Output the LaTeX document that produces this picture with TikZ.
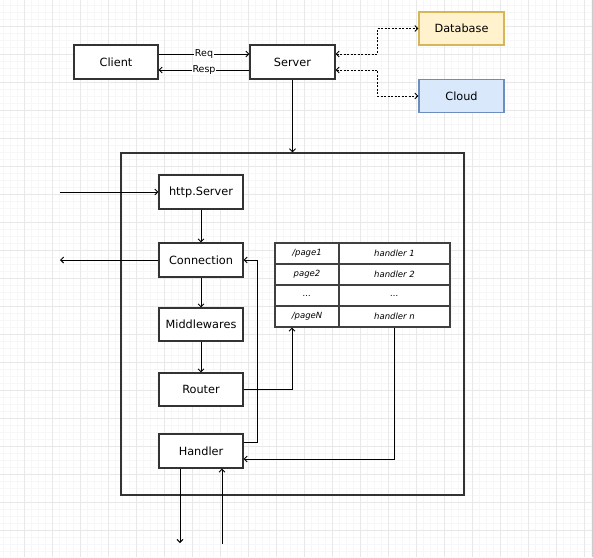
\documentclass[tikz,border=0pt]{standalone}
\usepackage{fontspec}
\setmainfont{DejaVu Sans}
\usetikzlibrary{arrows.meta}
\definecolor{gridminor}{HTML}{F7F7F7}
\definecolor{gridmajor}{HTML}{E8E8E8}
\definecolor{dbfill}{HTML}{FFF2CC}
\definecolor{dbline}{HTML}{D6B656}
\definecolor{cloudfill}{HTML}{DAE8FC}
\definecolor{cloudline}{HTML}{6C8EBF}
\begin{document}
\begin{tikzpicture}[x=1pt,y=-1pt,
    box/.style={draw=black!80, line width=1.1pt, fill=white, minimum width=84pt, minimum height=34pt,
                inner sep=0pt, font=\fontsize{11.3}{13}\selectfont},
    cell/.style={draw=black!75, line width=1.1pt, fill=white, minimum height=21pt, inner sep=0pt,
                 font=\fontsize{8.5}{10}\selectfont\itshape},
    arr/.style={line width=0.9pt, -{Straight Barb[length=3pt,width=6pt]}},
    darr/.style={line width=0.9pt, dashed, dash pattern=on 2pt off 1.5pt,
                 {Straight Barb[length=3pt,width=6pt]}-{Straight Barb[length=3pt,width=6pt]}},
    lbl/.style={fill=white, inner sep=0.5pt, font=\fontsize{9.5}{11}\selectfont}]

            \useasboundingbox (0,0) rectangle (593,557);

            % background grid
            \fill[white] (0,0) rectangle (593,557);
            \foreach \x in {3.3,10.3,...,593} \draw[gridminor, line width=0.8pt] (\x,0) -- (\x,557);
            \foreach \y in {5,12,...,557} \draw[gridminor, line width=0.8pt] (0,\y) -- (593,\y);
            \foreach \x in {24.3,52.3,...,593} \draw[gridmajor, line width=0.9pt] (\x,0) -- (\x,557);
            \foreach \y in {26,54,...,557} \draw[gridmajor, line width=0.9pt] (0,\y) -- (593,\y);
            \draw[black!20, line width=1.2pt] (592.4,0) -- (592.4,557);

            % client, server and storage
            \node[box] (client) at (116,62) {Client};
            \node[box, minimum width=85pt] (server) at (292.5,62) {Server};
            \node[box, fill=dbfill, draw=dbline, minimum width=85pt, minimum height=33pt] (db) at (461.5,28.5) {Database};
            \node[box, fill=cloudfill, draw=cloudline, minimum width=85pt, minimum height=33pt] (cloud) at (461.5,96) {Cloud};

            \draw[arr] ([yshift=8pt]client.east) -- node[lbl] {Req} ([yshift=8pt]server.west);
            \draw[arr] ([yshift=-8pt]server.west) -- node[lbl] {Resp} ([yshift=-8pt]client.east);
            \draw[darr] ([yshift=8pt]server.east) -- ++(42,0) |- (db.west);
            \draw[darr] ([yshift=-8pt]server.east) -- ++(42,0) |- (cloud.west);

            % the server box
            \node[draw=black!80, line width=1.3pt, minimum width=343pt, minimum height=342pt, inner sep=0pt] (app) at (292.5,324) {};
            \draw[arr] (server.south) -- (app.north);

            % request chain
            \node[box] (httpsrv) at (201,192) {http.Server};
            \node[box] (conn) at (201,260) {Connection};
            \node[box, minimum height=33pt] (mw) at (201,324.5) {Middlewares};
            \node[box, minimum height=33pt] (router) at (201,389.5) {Router};
            \node[box] (handler) at (201,451) {Handler};

            \draw[arr] (httpsrv.south) -- (conn.north);
            \draw[arr] (conn.south) -- (mw.north);
            \draw[arr] (mw.south) -- (router.north);

            % routing table
            \node[cell, minimum width=64pt] (p1) at (307,253.5) {/page1};
            \node[cell, minimum width=111pt] (h1) at (394.5,253.5) {handler 1};
            \node[cell, minimum width=64pt] (p2) at (307,274.5) {page2};
            \node[cell, minimum width=111pt] (h2) at (394.5,274.5) {handler 2};
            \node[cell, minimum width=64pt] (p3) at (307,295.5) {...};
            \node[cell, minimum width=111pt] (h3) at (394.5,295.5) {...};
            \node[cell, minimum width=64pt] (p4) at (307,316.5) {/pageN};
            \node[cell, minimum width=111pt] (h4) at (394.5,316.5) {handler n};

            \draw[arr] (router.east) -| ([xshift=-15pt]p4.south);
            \draw[arr] (h4.south) |- ([yshift=-8pt]handler.east);
            \draw[arr] ([yshift=9pt]handler.east) -- ++(14,0) |- (conn.east);

            % outside connections
            \coordinate (in) at (60,192);
            \coordinate (out) at (60,260);
            \coordinate (down) at (180,543);
            \coordinate (up) at (222,544);
            \draw[arr] (in) -- (httpsrv.west);
            \draw[arr] (conn.west) -- (out);
            \draw[arr] ([xshift=-21pt]handler.south) -- (down);
            \draw[arr] (up) -- ([xshift=21pt]handler.south);
\end{tikzpicture}
\end{document}
